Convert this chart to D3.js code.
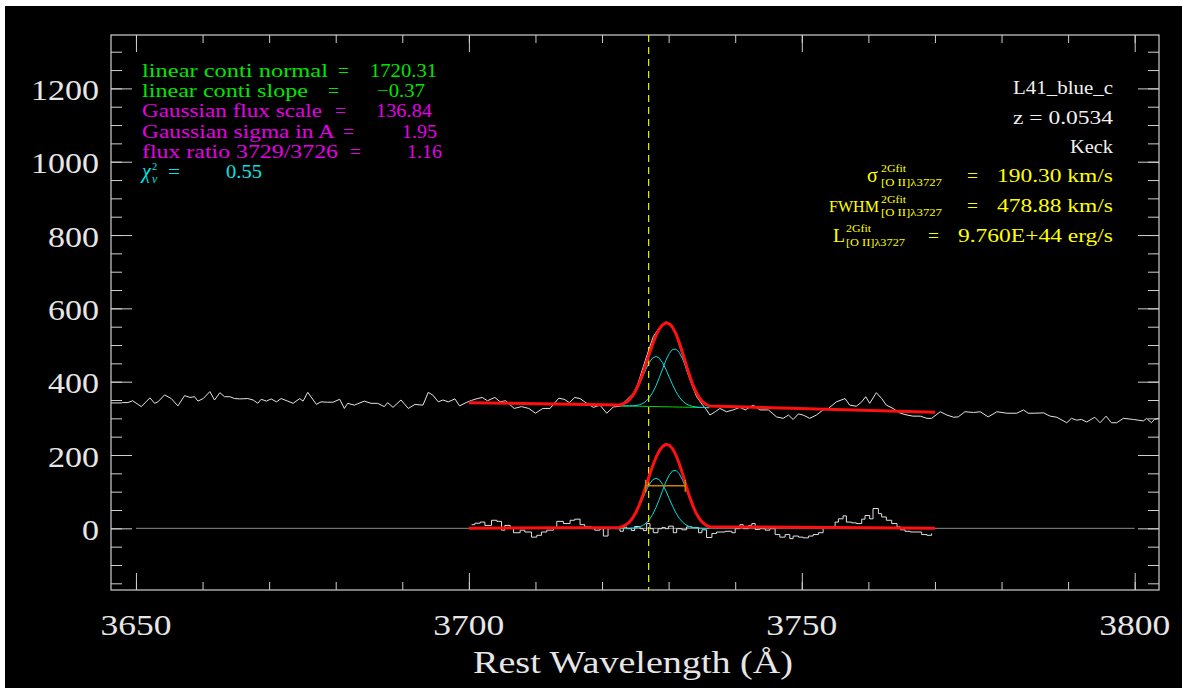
<!DOCTYPE html>
<html>
<head>
<meta charset="utf-8">
<script src="https://cdn.jsdelivr.net/npm/d3@7"></script>
<style>
  body { margin: 0; background: #fff; }
  svg { display: block; }
  text { font-family: "Liberation Serif", "DejaVu Serif", serif; }
</style>
</head>
<body>
<svg id="chart" width="1182" height="692"></svg>
<script>
// observed spectrum (rest wavelength, flux)
var specWave = [3646.3,3647.8,3648.0,3648.8,3649.5,3650.8,3652.1,3652.8,3653.3,3654.3,3655.3,3656.3,3657.3,3658.1,3658.8,3659.3,
  3660.1,3661.1,3661.8,3662.6,3663.3,3664.1,3664.8,3665.6,3666.8,3667.6,3668.3,3668.8,3669.6,3670.3,3671.1,3671.8,3672.8,
  3673.6,3674.6,3675.1,3675.8,3677.1,3677.8,3678.8,3679.6,3680.6,3681.3,3681.8,3682.8,3684.3,3685.3,3686.3,3687.3,3687.8,
  3688.6,3689.8,3690.9,3691.9,3693.1,3693.9,3694.6,3695.4,3696.1,3696.9,3697.9,3698.6,3699.6,3700.4,3701.1,3702.0,3702.8,
  3703.9,3704.7,3705.5,3706.8,3707.9,3709.0,3710.0,3711.1,3712.2,3713.5,3714.3,3715.1,3715.9,3716.7,3717.7,3718.7,3719.7,
  3720.7,3721.7,3722.7,3723.4,3724.2,3724.7,3725.4,3726.2,3727.0,3727.7,3728.7,3729.7,3730.5,3731.2,3732.0,3732.7,3733.5,
  3734.2,3735.0,3735.7,3736.2,3737.0,3737.7,3738.7,3739.7,3740.7,3741.5,3742.7,3743.7,3745.0,3746.2,3747.2,3748.0,3748.7,
  3749.5,3750.2,3751.2,3752.2,3753.2,3754.0,3755.2,3756.5,3757.2,3758.2,3759.0,3759.6,3760.2,3761.2,3762.0,3762.7,3763.7,
  3764.8,3765.8,3766.7,3767.8,3768.8,3769.5,3770.8,3771.8,3772.8,3773.5,3774.5,3775.8,3776.8,3778.0,3779.3,3780.8,3782.3,
  3783.3,3784.0,3785.0,3786.3,3787.3,3788.3,3789.8,3790.5,3791.3,3792.0,3792.8,3794.0,3794.8,3795.7,3796.5,3797.3,3798.3,
  3799.8,3801.3,3801.8,3802.5,3803.0,3803.6];
var specFlux = [342,342,343,343,348,332,356,341,345,364,354,334,362,357,359,347,
  354,373,350,370,359,359,354,353,354,350,341,352,347,353,345,354,347,
  341,354,347,371,338,345,344,344,352,327,341,336,347,341,341,332,343,
  330,350,327,338,336,371,363,345,350,345,353,334,343,349,353,357,348,
  357,345,348,327,332,327,314,327,327,355,352,343,357,354,341,330,336,
  314,331,333,345,359,368,395,441,486,523,550,563,554,522,477,432,391,
  359,339,323,309,318,327,318,323,330,323,336,323,323,304,300,309,297,
  312,309,300,309,323,327,345,354,336,333,345,359,341,370,354,336,327,
  314,309,306,306,300,300,318,309,303,304,318,316,318,304,318,314,314,
  323,314,314,315,306,303,288,300,295,297,290,303,288,306,288,288,300,
  297,293,300,288,297,300];

// residual (data - model), step starts
var residWave = [3700.4,3700.9,3701.7,3702.4,3703.4,3704.2,3704.9,3705.4,3706.2,3706.7,3707.7,3708.4,3709.4,3710.2,3710.9,
  3711.7,3712.7,3713.2,3714.2,3715.2,3715.9,3716.7,3717.4,3718.4,3718.9,3719.7,3720.2,3720.9,3721.4,3721.9,3722.7,3723.2,
  3723.7,3724.4,3724.9,3725.7,3726.2,3726.7,3727.2,3727.7,3728.4,3729.0,3729.5,3730.0,3730.7,3731.2,3732.0,3732.7,3733.5,
  3734.5,3735.0,3735.7,3736.5,3737.2,3738.5,3739.5,3740.0,3740.7,3741.2,3742.0,3742.5,3743.0,3743.7,3744.5,3745.2,3746.0,
  3746.7,3747.5,3748.2,3748.7,3749.5,3750.2,3751.0,3751.7,3752.5,3753.2,3754.0,3755.0,3755.5,3756.2,3756.7,3757.5,3758.2,
  3759.0,3759.5,3760.2,3760.7,3761.5,3762.0,3762.7,3763.5,3764.3,3764.8,3765.5,3766.3,3767.3,3768.0,3768.8,3769.5];
var residFlux = [10,14,17,8,22,19,-5,8,2,-12,-5,-10,-24,-19,-10,
  -5,2,19,13,22,25,10,4,-1,-5,-1,-21,-1,2,-1,-8,3,
  -1,-6,5,-1,-6,13,-1,-12,-1,2,-1,6,-12,-1,-4,4,2,
  -12,-4,-25,-14,-10,-8,-12,-1,10,-1,8,13,-3,-1,-5,-1,-17,
  -24,-17,-28,-21,-24,-26,-21,-17,-12,5,2,17,26,34,17,15,13,
  25,35,26,54,40,31,22,13,4,-4,-8,-10,-10,-17,-19,-14];

// fitted model: linear continuum end points and the two Gaussian components
var fitWave = [3700, 3770];
var contFlux = [342.5, 316.5];
var compWave = [3722.6,3723.1,3723.6,3724.1,3724.6,3725.1,3725.6,3726.1,3726.6,3727.1,3727.6,3728.1,3728.6,3729.1,
  3729.6,3730.1,3730.6,3731.1,3731.6,3732.1,3732.6,3733.1,3733.6,3734.1,3734.6,3735.1,3735.6,3736.1];
var gauss3726 = [2.6,5.1,9.5,16.7,27.3,41.9,60.2,80.8,101.8,119.9,132.4,136.8,132.4,119.9,
  101.8,80.8,60.2,41.9,27.3,16.7,9.5,5.1,2.6,1.2,0.5,0.2,0.1,0.0];
var gauss3729 = [0.0,0.0,0.1,0.4,0.9,1.9,4.0,7.7,13.9,23.8,37.9,56.6,79.2,103.6,
  127.1,145.9,156.8,157.9,148.8,131.3,108.5,84.0,60.8,41.3,26.2,15.6,8.7,4.5];
var fwhmWave = [3726.55, 3732.5];
var fwhmLevel = 116;
var lineCenter = 3727;

// axes
var xMajor = [3650, 3700, 3750, 3800];
var xMinor = [3650,3660,3670,3680,3690,3700,3710,3720,3730,3740,3750,3760,3770,3780,3790,3800];
var yMajor = [0, 200, 400, 600, 800, 1000, 1200];
var yMinor = [-150,-100,-50,0,50,100,150,200,250,300,350,400,450,500,550,600,650,700,750,800,850,900,950,
  1000,1050,1100,1150,1200,1250,1300];
var xTitle = "Rest Wavelength (Å)";

// annotations
var infoLabels = ["linear conti normal", "linear conti slope", "Gaussian flux scale", "Gaussian sigma in A", "flux ratio 3729/3726"];
var infoValues = ["1720.31", "\u22120.37", "136.84", "1.95", "1.16"];
var chiValue = "0.55";
var objName = "L41_blue_c";
var redshift = "z = 0.0534";
var telescope = "Keck";
var sigmaText = "190.30 km/s";
var fwhmText = "478.88 km/s";
var lumText = "9.760E+44 erg/s";

var svg = d3.select("#chart");
var L = 111, R = 1159, T = 35, B = 590;

svg.append("rect").attr("x", 5).attr("y", 6).attr("width", 1177).attr("height", 682).attr("fill", "#000");

var x = d3.scaleLinear().domain([3646.25, 3803.65]).range([L, R]);
var y = d3.scaleLinear().domain([-168.2, 1345.6]).range([B, T]);
var contAt = d3.scaleLinear().domain(fitWave).range(contFlux);

svg.append("clipPath").attr("id", "plotclip")
  .append("rect").attr("x", L).attr("y", T).attr("width", R - L).attr("height", B - T);

var axisCol = "#cfcfcf";
function tickAxis(axis, tx, ty, vals, size) {
  var g = svg.append("g").attr("transform", "translate(" + tx + "," + ty + ")")
    .call(axis.tickValues(vals).tickSize(size).tickSizeOuter(0).tickFormat(""));
  g.select(".domain").remove();
  g.selectAll("line").attr("stroke", axisCol);
}
tickAxis(d3.axisTop(x), 0, B, xMajor, 17);
tickAxis(d3.axisTop(x), 0, B, xMinor, 8);
tickAxis(d3.axisBottom(x), 0, T, xMajor, 17);
tickAxis(d3.axisBottom(x), 0, T, xMinor, 8);
tickAxis(d3.axisRight(y), L, 0, yMajor, 21);
tickAxis(d3.axisRight(y), L, 0, yMinor, 11);
tickAxis(d3.axisLeft(y), R, 0, yMajor, 21);
tickAxis(d3.axisLeft(y), R, 0, yMinor, 11);

svg.append("rect").attr("x", L).attr("y", T).attr("width", R - L).attr("height", B - T)
  .attr("fill", "none").attr("stroke", axisCol).attr("stroke-width", 1.2);

svg.selectAll(".ylab").data(yMajor).enter().append("text")
  .attr("x", 99).attr("y", function(d) { return y(d) + 11.5; })
  .attr("text-anchor", "end").attr("font-size", 30).attr("fill", "#e6e6e6")
  .attr("textLength", function(d) { return String(d).length * 17; })
  .attr("lengthAdjust", "spacingAndGlyphs")
  .text(function(d) { return d; });

svg.selectAll(".xlab").data(xMajor).enter().append("text")
  .attr("x", x).attr("y", 635)
  .attr("text-anchor", "middle").attr("font-size", 30).attr("fill", "#e6e6e6")
  .attr("textLength", 71).attr("lengthAdjust", "spacingAndGlyphs")
  .text(function(d) { return d; });

svg.append("text").attr("x", 633).attr("y", 673).attr("text-anchor", "middle")
  .attr("font-size", 31).attr("fill", "#e6e6e6")
  .attr("textLength", 320).attr("lengthAdjust", "spacingAndGlyphs")
  .text(xTitle);

var plot = svg.append("g").attr("clip-path", "url(#plotclip)");
var line = d3.line().x(function(d) { return x(d[0]); }).y(function(d) { return y(d[1]); });

// spectrum
plot.append("path").datum(d3.zip(specWave, specFlux))
  .attr("d", line).attr("fill", "none").attr("stroke", "#e4e4e4").attr("stroke-width", 1);

// zero line and residual histogram
plot.append("path").datum([[xMajor[0], 0], [xMajor[3], 0]])
  .attr("d", line).attr("stroke", "#8a8a8a").attr("stroke-width", 1);
plot.append("path").datum(d3.zip(residWave, residFlux))
  .attr("d", line.curve(d3.curveStepAfter)).attr("fill", "none").attr("stroke", "#e0e0e0").attr("stroke-width", 1);
line.curve(d3.curveLinear);

// continuum (green) and components (cyan), upper panel
plot.append("path").datum(compWave.map(function(w) { return [w, contAt(w)]; }))
  .attr("d", line).attr("fill", "none").attr("stroke", "#00e000").attr("stroke-width", 1);
[gauss3726, gauss3729].forEach(function(g) {
  plot.append("path").datum(compWave.map(function(w, i) { return [w, contAt(w) + g[i]]; }))
    .attr("d", line).attr("fill", "none").attr("stroke", "#00dede").attr("stroke-width", 1);
  plot.append("path").datum(compWave.map(function(w, i) { return [w, g[i]]; }))
    .attr("d", line).attr("fill", "none").attr("stroke", "#00dede").attr("stroke-width", 1);
});

// rest-frame [O II] marker
plot.append("line").attr("x1", x(lineCenter)).attr("x2", x(lineCenter)).attr("y1", T).attr("y2", B)
  .attr("stroke", "#f0f000").attr("stroke-width", 1.2).attr("stroke-dasharray", "7,5");

// total model (red)
var sumUp = [[fitWave[0], contFlux[0]]].concat(
  compWave.map(function(w, i) { return [w, contAt(w) + gauss3726[i] + gauss3729[i]]; }),
  [[fitWave[1], contFlux[1]]]);
var sumLow = [[fitWave[0], 0]].concat(
  compWave.map(function(w, i) { return [w, gauss3726[i] + gauss3729[i]]; }),
  [[fitWave[1], 0]]);
[sumUp, sumLow].forEach(function(s) {
  plot.append("path").datum(s).attr("d", line).attr("fill", "none")
    .attr("stroke", "#ff1010").attr("stroke-width", 3).attr("stroke-linejoin", "round");
});

// FWHM bar
var fw = plot.append("g").attr("stroke", "#d08000").attr("stroke-width", 1.5);
fw.append("line").attr("x1", x(fwhmWave[0])).attr("x2", x(fwhmWave[1]))
  .attr("y1", y(fwhmLevel)).attr("y2", y(fwhmLevel));
fwhmWave.forEach(function(w) {
  fw.append("line").attr("x1", x(w)).attr("x2", x(w))
    .attr("y1", y(fwhmLevel) - 6).attr("y2", y(fwhmLevel) + 6);
});

// text helper
function put(str, xp, yb, o) {
  var t = svg.append("text").attr("x", xp).attr("y", yb).text(str)
    .attr("font-size", o.size || 18.5).attr("fill", o.fill)
    .attr("text-anchor", o.anchor || "start");
  if (o.len) t.attr("textLength", o.len).attr("lengthAdjust", "spacingAndGlyphs");
  if (o.italic) t.attr("font-style", "italic");
  return t;
}

var infoCols = ["#00e600", "#00e600", "#e600e6", "#e600e6", "#e600e6"];
var labW = [186, 166, 180, 193, 196];
var eqX = [338, 328, 335, 343, 350];
var valEnd = [437, 425, 432, 437, 442];
var valW = [67, 48, 56, 35, 35];
infoLabels.forEach(function(s, i) {
  var yb = 76.7 + 20.3 * i;
  put(s, 142, yb, { fill: infoCols[i], len: labW[i] });
  put("=", eqX[i], yb, { fill: infoCols[i], len: 11 });
  put(infoValues[i], valEnd[i], yb, { fill: infoCols[i], anchor: "end", len: valW[i] });
});
var cy = "#00e4e4";
put("\u03c7", 142, 178, { fill: cy, size: 20, italic: true });
put("2", 152, 169.5, { fill: cy, size: 10.5 });
put("\u03bd", 152, 182.5, { fill: cy, size: 12, italic: true });
put("=", 168, 178, { fill: cy, len: 12 });
put(chiValue, 262, 178, { fill: cy, anchor: "end", len: 36 });

var wt = "#f0f0f0";
put(objName, 1113, 94.3, { fill: wt, anchor: "end", size: 18.5, len: 100 });
put(redshift, 1113, 124, { fill: wt, anchor: "end", size: 18, len: 100 });
put(telescope, 1113, 152.7, { fill: wt, anchor: "end", size: 18, len: 43 });

var ye = "#ffff00";
var subTxt = "[O II]\u03bb3727", supTxt = "2Gfit";
put("\u03c3", 867, 181.7, { fill: ye, size: 20 });
put(supTxt, 881, 172.3, { fill: ye, size: 10.5, len: 25 });
put(subTxt, 881, 185.5, { fill: ye, size: 10.5, len: 61 });
put("=", 967, 181.7, { fill: ye, len: 11 });
put(sigmaText, 1113, 181.7, { fill: ye, anchor: "end", len: 116 });

put("FWHM", 829, 211.7, { fill: ye, size: 16.5, len: 50 });
put(supTxt, 881, 202.8, { fill: ye, size: 10.5, len: 25 });
put(subTxt, 881, 216, { fill: ye, size: 10.5, len: 61 });
put("=", 967, 211.7, { fill: ye, len: 11 });
put(fwhmText, 1113, 211.7, { fill: ye, anchor: "end", len: 116 });

put("L", 833, 241.7, { fill: ye, len: 12 });
put(supTxt, 846, 232.3, { fill: ye, size: 10.5, len: 25 });
put(subTxt, 846, 245.5, { fill: ye, size: 10.5, len: 59 });
put("=", 928, 241.7, { fill: ye, len: 11 });
put(lumText, 1113, 241.7, { fill: ye, anchor: "end", len: 155 });
</script>
</body>
</html>
